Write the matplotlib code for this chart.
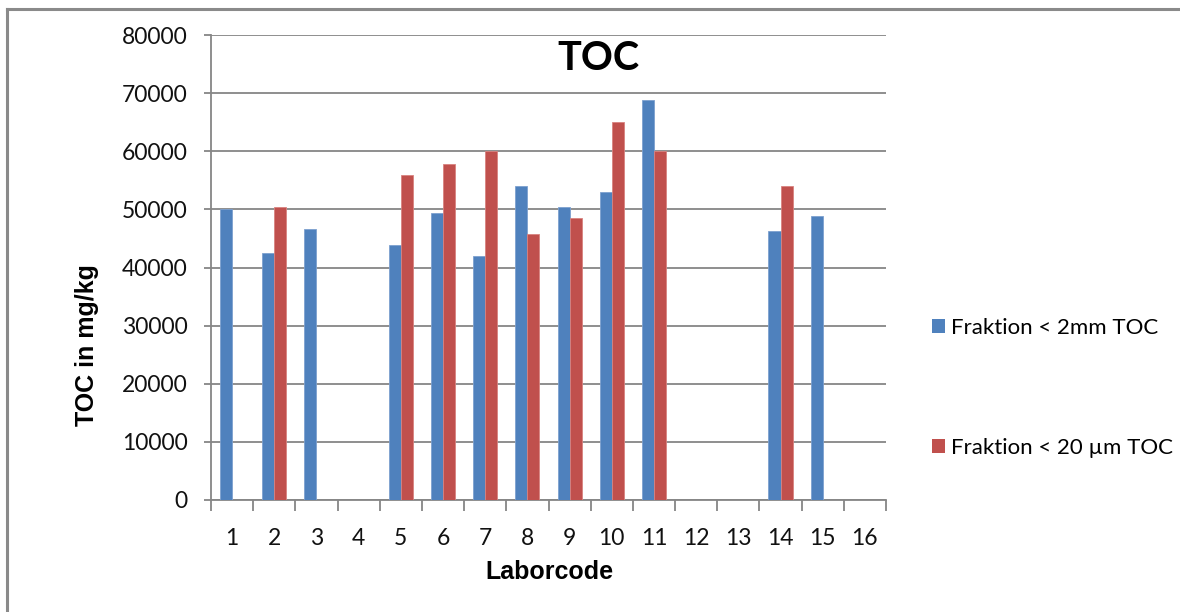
import numpy as np
import matplotlib
matplotlib.use("Agg")
import matplotlib.pyplot as plt
from matplotlib.lines import Line2D
from matplotlib.patches import Patch

plt.rcParams['font.family'] = ['Lato', 'DejaVu Sans']

labs = list(range(1, 17))
toc_2mm = [50000, 42500, 46600, 0, 43900, 49300, 42000, 54000,
           50400, 53000, 68800, 0, 0, 46300, 48900, 0]
toc_20um = [0, 50400, 0, 0, 55900, 57800, 60000, 45700,
            48500, 65000, 60000, 0, 0, 54000, 0, 0]
series_names = ["Fraktion < 2mm TOC", "Fraktion < 20 µm TOC"]
yticks = [0, 10000, 20000, 30000, 40000, 50000, 60000, 70000, 80000]

blue = "#4F81BD"
red = "#C0504D"
grid_c = "#868686"

W, H = 1180, 612
fig = plt.figure(figsize=(W / 100, H / 100), dpi=100)
ax = fig.add_axes([211 / W, 1 - 500 / H, (886 - 211) / W, (500 - 35) / H])

x = np.arange(len(labs)) + 1
w = 0.2857
ax.bar(x - w / 2, toc_2mm, w, color=blue, edgecolor="#7DA0CF", linewidth=0.6, zorder=3)
ax.bar(x + w / 2, toc_20um, w, color=red, edgecolor="#D9827F", linewidth=0.6, zorder=3)

ax.set_xlim(0.5, 16.5)
ax.set_ylim(0, 80000)
ax.set_yticks(yticks)
ax.set_yticklabels([str(v) for v in yticks])
ax.yaxis.grid(True, color=grid_c, linewidth=1.3, zorder=0)

ax.set_xticks(x)
ax.set_xticklabels([str(v) for v in labs])
ax.set_xticks(np.arange(0.5, 17, 1), minor=True)
ax.tick_params(axis="x", which="major", length=0, pad=20, labelsize=16.5, colors="#111111")
ax.tick_params(axis="x", which="minor", length=8, width=1.3, color=grid_c)
ax.tick_params(axis="y", length=5, width=1.3, color=grid_c, pad=12,
               labelsize=16.5, labelcolor="#111111")

for s in ["top", "right"]:
    ax.spines[s].set_visible(False)
for s in ["left", "bottom"]:
    ax.spines[s].set_color(grid_c)
    ax.spines[s].set_linewidth(1.3)

fig.text(598 / W, 1 - 58 / H, "TOC", fontsize=28.5, fontweight="bold",
         ha="center", va="center")
fig.text(87 / W, 1 - 345 / H, "TOC in mg/kg", fontsize=18, fontweight="bold",
         family="Liberation Sans", rotation=90, ha="center", va="center")
fig.text(549 / W, 1 - 572 / H, "Laborcode", fontsize=18, fontweight="bold",
         family="Liberation Sans", ha="center", va="center")

handles = [Patch(facecolor=blue), Patch(facecolor=red)]
fig.legend(handles, series_names, loc="upper left",
           bbox_to_anchor=(923 / W, 1 - 309 / H), frameon=False,
           fontsize=16, handlelength=0.6, handleheight=0.6,
           handletextpad=0.25, labelspacing=4.5, borderaxespad=0)

# outer chart frame
fig.add_artist(Line2D([7 / W, 1], [1 - 9 / H, 1 - 9 / H], color="#8a8a8a", linewidth=2.2))
fig.add_artist(Line2D([7 / W, 7 / W], [0, 1 - 9 / H], color="#8a8a8a", linewidth=2.2))

fig.savefig("out.png", dpi=100)
